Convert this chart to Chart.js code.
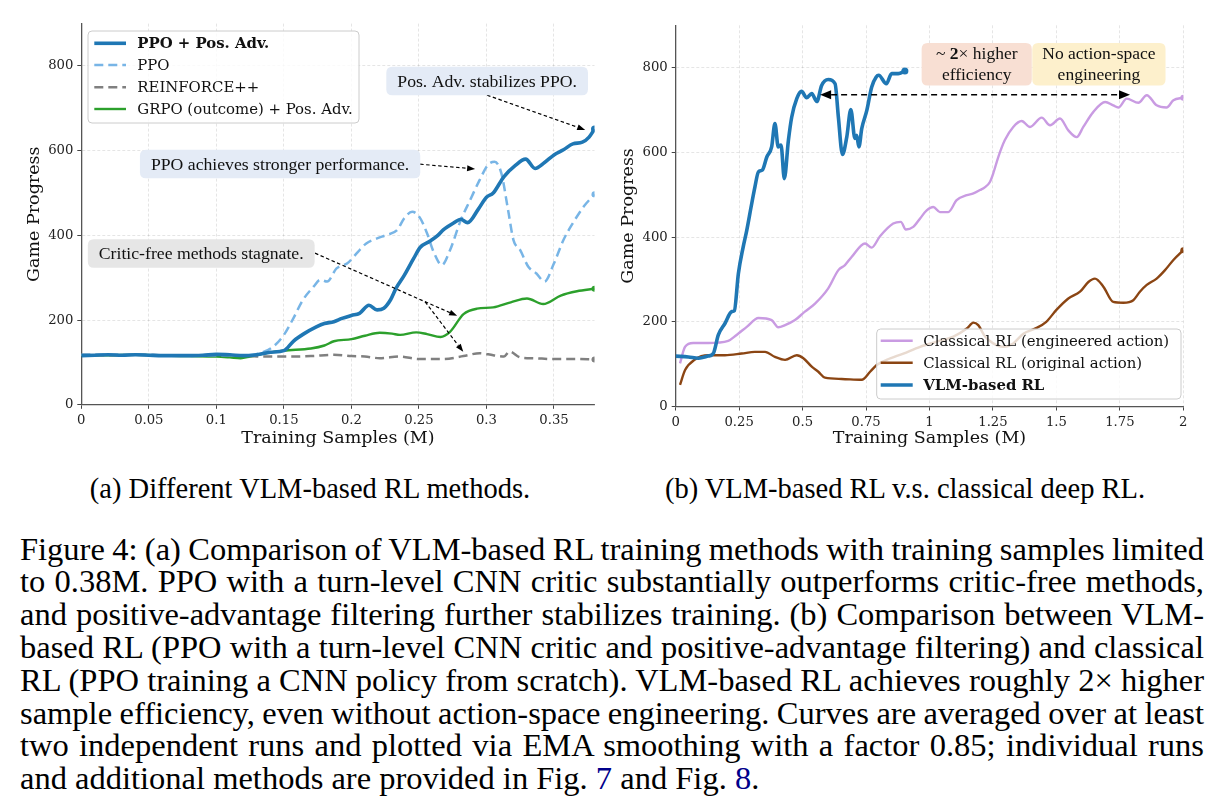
<!DOCTYPE html>
<html><head><meta charset="utf-8">
<script src="https://cdn.jsdelivr.net/npm/chart.js@4.4.1/dist/chart.umd.min.js"></script>
<style>
html,body{margin:0;padding:0;background:#fff;}
body{width:1223px;height:811px;position:relative;overflow:hidden;}
canvas{position:absolute;top:0;}
#c1{left:0;}
#c2{left:610px;}
.sub{position:absolute;font-family:"Liberation Serif",serif;font-size:28.5px;line-height:34px;color:#000;white-space:nowrap;transform:translateX(-50%);}
.cap{position:absolute;left:20px;font-family:"Liberation Serif",serif;font-size:32.5px;line-height:32.8px;color:#000;white-space:nowrap;}
.lnk{color:#00008b;}
</style></head><body>
<canvas id="c1" width="610" height="460"></canvas>
<canvas id="c2" width="613" height="460"></canvas>
<div class="sub" style="left:310px;top:472px;">(a) Different VLM-based RL methods.</div>
<div class="sub" style="left:905px;top:472px;">(b) VLM-based RL v.s. classical deep RL.</div>
<script>
// ---------------- Panel (a): Different VLM-based RL methods ----------------
const ppoPosAdvX = [0,0.01,0.02,0.03,0.04,0.05,0.06,0.07,0.08,0.09,0.1,0.11,0.12,0.13,0.14,0.15,0.157,0.165,0.174,0.18,0.187,0.193,0.2,0.206,0.213,0.219,0.224,0.229,0.233,0.239,0.246,0.251,0.258,0.264,0.268,0.276,0.281,0.286,0.294,0.3,0.305,0.313,0.321,0.329,0.336,0.343,0.35,0.357,0.364,0.371,0.376,0.38];
const ppoPosAdvY = [116,117,118,117,118,117,116,116,116,117,119,118,116,118,124,128,150,168,184,192,196,204,211,216,235,224,228,248,275,305,345,372,386,400,413,430,438,430,462,490,500,539,564,580,558,572,590,602,616,620,632,651];

const ppoX = [0,0.02,0.04,0.06,0.08,0.1,0.12,0.13,0.142,0.15,0.157,0.164,0.172,0.177,0.182,0.189,0.197,0.204,0.211,0.219,0.226,0.234,0.239,0.245,0.251,0.256,0.261,0.267,0.273,0.281,0.288,0.295,0.301,0.306,0.311,0.316,0.32,0.325,0.331,0.337,0.343,0.35,0.357,0.364,0.372,0.38];
const ppoY = [118,118,118,117,116,117,117,120,137,165,204,247,279,295,291,322,334,358,381,393,401,413,440,456,440,405,360,330,365,436,484,531,566,574,547,460,389,365,326,310,291,334,389,429,468,497];

const reinforceX = [0,0.02,0.04,0.06,0.08,0.1,0.12,0.13,0.15,0.17,0.187,0.2,0.21,0.221,0.236,0.25,0.268,0.283,0.295,0.305,0.313,0.317,0.325,0.335,0.35,0.365,0.38];
const reinforceY = [118,117,118,117,116,117,116,114,114,115,118,115,114,110,114,108,108,115,122,117,114,126,112,110,108,108,107];

const grpoX = [0,0.02,0.04,0.06,0.08,0.1,0.11,0.118,0.125,0.137,0.15,0.17,0.18,0.187,0.2,0.21,0.221,0.23,0.236,0.248,0.256,0.266,0.273,0.283,0.293,0.305,0.318,0.33,0.342,0.355,0.367,0.38];
const grpoY = [117,117,118,116,115,114,112,110,114,122,128,133,140,150,155,163,170,168,165,171,167,160,172,214,227,230,242,251,238,258,268,274];

const xTicksA = [0,0.05,0.1,0.15,0.2,0.25,0.3,0.35];
const xTickLabelsA = ['0','0.05','0.1','0.15','0.2','0.25','0.3','0.35'];

// ---------------- Panel (b): VLM-based RL vs classical deep RL ----------------
const vlmX = [0,0.05,0.09,0.128,0.148,0.168,0.194,0.221,0.231,0.247,0.266,0.28,0.297,0.312,0.326,0.341,0.359,0.378,0.391,0.404,0.415,0.428,0.444,0.457,0.477,0.496,0.516,0.536,0.556,0.575,0.601,0.628,0.641,0.657,0.674,0.69,0.706,0.713,0.722,0.733,0.753,0.772,0.79,0.8,0.83,0.851,0.877,0.903];
const vlmY = [119,117,114,119,125,169,196,224,226,314,377,416,471,518,554,558,589,613,668,613,617,538,628,683,727,744,729,739,720,758,772,762,683,595,636,701,633,640,613,656,699,754,778,782,762,786,786,792];

const engX = [0.017,0.037,0.069,0.128,0.207,0.24,0.28,0.326,0.378,0.404,0.431,0.47,0.509,0.549,0.601,0.641,0.667,0.693,0.746,0.772,0.805,0.857,0.887,0.907,0.936,0.963,0.989,1.015,1.041,1.074,1.107,1.147,1.173,1.199,1.219,1.238,1.251,1.271,1.297,1.33,1.363,1.396,1.442,1.475,1.514,1.547,1.58,1.606,1.645,1.692,1.724,1.744,1.777,1.823,1.856,1.895,1.934,1.961,2];
const engY = [102,141,150,150,155,169,188,209,204,187,192,204,224,243,279,322,334,353,385,375,402,432,436,418,424,444,463,471,459,459,487,499,503,511,518,530,550,589,629,660,674,660,682,664,680,652,636,660,695,719,711,706,727,717,735,711,706,723,729];

const origX = [0.017,0.037,0.076,0.128,0.194,0.26,0.312,0.352,0.391,0.431,0.477,0.503,0.536,0.562,0.588,0.654,0.733,0.766,0.792,0.831,0.897,0.963,1.028,1.094,1.147,1.173,1.192,1.219,1.251,1.291,1.33,1.37,1.42,1.46,1.5,1.547,1.593,1.626,1.652,1.685,1.724,1.764,1.803,1.829,1.856,1.895,1.928,1.961,2];
const origY = [51,86,111,121,121,125,129,129,117,110,121,114,94,82,68,65,63,82,98,110,125,141,153,165,184,198,192,165,149,141,149,172,185,200,228,255,271,294,302,283,247,245,251,271,287,302,322,346,369];

const xTicksB = [0,0.25,0.5,0.75,1,1.25,1.5,1.75,2];
const xTickLabelsB = ['0','0.25','0.5','0.75','1','1.25','1.5','1.75','2'];

// shared y ticks
const yTicks = [0,200,400,600,800];
const yTickLabels = ['0','200','400','600','800'];

// ---------------- caption ----------------
const captionLines = [
  'Figure 4: (a) Comparison of VLM-based RL training methods with training samples limited',
  'to 0.38M. PPO with a turn-level CNN critic substantially outperforms critic-free methods,',
  'and positive-advantage filtering further stabilizes training. (b) Comparison between VLM-',
  'based RL (PPO with a turn-level CNN critic and positive-advantage filtering) and classical',
  'RL (PPO training a CNN policy from scratch). VLM-based RL achieves roughly 2\u00d7 higher',
  'sample efficiency, even without action-space engineering. Curves are averaged over at least',
  'two independent runs and plotted via EMA smoothing with a factor 0.85; individual runs',
  'and additional methods are provided in Fig. <span class="lnk">7</span> and Fig. <span class="lnk">8</span>.'
];

// ============ helpers ============
const SERIF = "'DejaVu Serif'";
const TIMES = "'Liberation Serif'";
const pts = (xs, ys) => xs.map((x, i) => ({x: x, y: ys[i]}));

function series(label, xs, ys, color, width, dash, endR, extra) {
  const n = xs.length;
  return Object.assign({
    label: label, data: pts(xs, ys), borderColor: color, backgroundColor: color,
    borderWidth: width, borderDash: dash, fill: false,
    pointRadius: c => (c.dataIndex === n - 1 ? endR : 0), pointBorderWidth: 0,
    pointHoverRadius: 0, cubicInterpolationMode: 'monotone', borderJoinStyle: 'round'
  }, extra || {});
}

function makeScales(xv, xl, xmax, yWidth, xHeight) {
  const grid = {color: 'rgba(0,0,0,0.13)', lineWidth: 0.8, tickColor: '#444', tickLength: 4, tickWidth: 1, tickBorderDash: []};
  const border = {display: true, color: '#555', width: 1.3, dash: [3, 2]};
  const tickFont = {family: SERIF, size: 13.2};
  const titleFont = {family: SERIF, size: 17.5};
  return {
    x: {
      type: 'linear', min: 0, max: xmax,
      afterBuildTicks: s => { s.ticks = xv.map(v => ({value: v})); },
      afterFit: s => { s.height = xHeight; },
      ticks: {callback: (v, i) => xl[i], font: tickFont, color: '#222', padding: 4, maxRotation: 0, autoSkip: false, includeBounds: false},
      grid: grid, border: border,
      title: {display: true, text: 'Training Samples (M)', font: titleFont, color: '#111', padding: {top: 0, bottom: 11.5}}
    },
    y: {
      type: 'linear', min: 0, max: 900,
      afterBuildTicks: s => { s.ticks = yTicks.map(v => ({value: v})); },
      afterFit: s => { s.width = yWidth; },
      ticks: {callback: (v, i) => yTickLabels[i], font: tickFont, color: '#222', padding: 4, autoSkip: false, includeBounds: false},
      grid: grid, border: border,
      title: {display: true, text: 'Game Progress', font: titleFont, color: '#111', padding: {top: 0, bottom: 0}}
    }
  };
}

function roundRect(ctx, x, y, w, h, r) {
  ctx.beginPath();
  ctx.moveTo(x + r, y);
  ctx.lineTo(x + w - r, y); ctx.quadraticCurveTo(x + w, y, x + w, y + r);
  ctx.lineTo(x + w, y + h - r); ctx.quadraticCurveTo(x + w, y + h, x + w - r, y + h);
  ctx.lineTo(x + r, y + h); ctx.quadraticCurveTo(x, y + h, x, y + h - r);
  ctx.lineTo(x, y + r); ctx.quadraticCurveTo(x, y, x + r, y);
  ctx.closePath();
}

function head(ctx, x, y, ang, len, wid) {
  ctx.beginPath();
  ctx.moveTo(x, y);
  ctx.lineTo(x - len * Math.cos(ang) + wid / 2 * Math.sin(ang), y - len * Math.sin(ang) - wid / 2 * Math.cos(ang));
  ctx.lineTo(x - len * Math.cos(ang) - wid / 2 * Math.sin(ang), y - len * Math.sin(ang) + wid / 2 * Math.cos(ang));
  ctx.closePath();
  ctx.fill();
}

function drawArrow(ctx, x1, y1, x2, y2, a) {
  const ang = Math.atan2(y2 - y1, x2 - x1);
  const c = Math.cos(ang), s = Math.sin(ang);
  let sx = x1, sy = y1;
  if (a.both) { sx = x1 + a.head * c; sy = y1 + a.head * s; }
  ctx.save();
  ctx.strokeStyle = '#000'; ctx.fillStyle = '#000';
  ctx.lineWidth = a.lw; ctx.setLineDash(a.dash);
  ctx.beginPath(); ctx.moveTo(sx, sy); ctx.lineTo(x2 - a.head * c, y2 - a.head * s); ctx.stroke();
  ctx.setLineDash([]);
  head(ctx, x2, y2, ang, a.head, a.wid);
  if (a.both) head(ctx, x1, y1, ang + Math.PI, a.head, a.wid);
  ctx.restore();
}

function segFont(seg, size) { return (seg.b ? 'bold ' : '') + size + 'px ' + TIMES; }

function drawBox(ctx, b, X, Y) {
  const size = b.size;
  const widths = b.lines.map(line => line.reduce((w, seg) => { ctx.font = segFont(seg, size); return w + ctx.measureText(seg.t).width; }, 0));
  let x, y, w, h;
  if (b.ext) {
    x = X(b.ext[0]); w = X(b.ext[1]) - x; y = Y(b.ext[3]); h = Y(b.ext[2]) - y;
  } else {
    w = Math.max.apply(null, widths) + 2 * b.padX;
    h = b.lines.length * b.lh + 2 * b.padY;
    x = X(b.cx) - w / 2; y = Y(b.cy) - h / 2;
  }
  ctx.save();
  ctx.fillStyle = b.bg;
  roundRect(ctx, x, y, w, h, 6);
  ctx.fill();
  ctx.fillStyle = '#111';
  ctx.textBaseline = 'middle'; ctx.textAlign = 'left';
  const cxp = x + w / 2, cyp = y + h / 2;
  b.lines.forEach((line, i) => {
    let tx = cxp - widths[i] / 2;
    const ty = cyp + (i - (b.lines.length - 1) / 2) * b.lh + 1;
    line.forEach(seg => {
      ctx.font = segFont(seg, size);
      ctx.fillText(seg.t, tx, ty);
      tx += ctx.measureText(seg.t).width;
    });
  });
  ctx.restore();
}

function drawLegend(ctx, chart, L) {
  ctx.save();
  ctx.fillStyle = 'rgba(255,255,255,0.8)';
  roundRect(ctx, L.x, L.y, L.w, L.h, 4);
  ctx.fill();
  ctx.strokeStyle = '#cccccc'; ctx.lineWidth = 1;
  ctx.stroke();
  chart.data.datasets.forEach((ds, i) => {
    const yy = L.rows[i];
    ctx.strokeStyle = ds.borderColor; ctx.lineWidth = ds.borderWidth;
    ctx.setLineDash(ds.borderDash || []);
    ctx.beginPath(); ctx.moveTo(L.sx0, yy); ctx.lineTo(L.sx1, yy); ctx.stroke();
    ctx.setLineDash([]);
    ctx.fillStyle = '#111';
    ctx.font = (ds.legendBold ? 'bold ' : '') + L.size + 'px ' + SERIF;
    ctx.textBaseline = 'middle'; ctx.textAlign = 'left';
    ctx.fillText(ds.label, L.tx, yy + 1);
  });
  ctx.restore();
}

const overlay = {
  id: 'overlay',
  afterDraw(chart, args, opts) {
    const ctx = chart.ctx;
    const X = v => chart.scales.x.getPixelForValue(v);
    const Y = v => chart.scales.y.getPixelForValue(v);
    (opts.arrows || []).forEach(a => drawArrow(ctx, X(a.from[0]), Y(a.from[1]), X(a.to[0]), Y(a.to[1]), a));
    (opts.boxes || []).forEach(b => drawBox(ctx, b, X, Y));
    if (opts.legend) drawLegend(ctx, chart, opts.legend);
  }
};

const smallArrow = {lw: 1.2, dash: [3.5, 2.5], head: 8, wid: 6};

// ============ chart (a) ============
new Chart(document.getElementById('c1'), {
  type: 'line',
  data: {
    datasets: [
      series('PPO + Pos. Adv.', ppoPosAdvX, ppoPosAdvY, '#1f77b4', 3.6, [], 3.5, {legendBold: true}),
      series('PPO', ppoX, ppoY, '#78b5e6', 2.5, [9, 5], 3),
      series('REINFORCE++', reinforceX, reinforceY, '#808080', 2.5, [9, 5], 3),
      series('GRPO (outcome) + Pos. Adv.', grpoX, grpoY, '#2ca02c', 2.4, [], 3)
    ]
  },
  options: {
    responsive: false, animation: false, devicePixelRatio: 1,
    layout: {padding: {left: 23.5, top: 23.6, right: 15.5, bottom: 0}},
    scales: makeScales(xTicksA, xTickLabelsA, 0.38, 57.8, 55.2),
    plugins: {
      legend: {display: false}, tooltip: {enabled: false},
      overlay: {
        arrows: [
          Object.assign({from: [0.3005, 731], to: [0.3731, 649]}, smallArrow),
          Object.assign({from: [0.2509, 568], to: [0.2916, 557]}, smallArrow),
          Object.assign({from: [0.1731, 358], to: [0.2783, 210]}, smallArrow),
          Object.assign({from: [0.2546, 243], to: [0.2828, 125]}, smallArrow)
        ],
        boxes: [
          {cx: 0.3005, cy: 764.5, bg: '#e4ebf6', size: 17.7, padX: 11, padY: 5.5, lh: 17.5, lines: [[{t: 'Pos. Adv. stabilizes PPO.'}]]},
          {cx: 0.1472, cy: 568.6, bg: '#e4ebf6', size: 17.7, padX: 11, padY: 5.5, lh: 17.5, lines: [[{t: 'PPO achieves stronger performance.'}]]},
          {cx: 0.0888, cy: 357.3, bg: '#e6e6e6', size: 17.7, padX: 11, padY: 5.5, lh: 17.5, lines: [[{t: 'Critic-free methods stagnate.'}]]}
        ],
        legend: {x: 88, y: 31, w: 271, h: 92, rows: [43.3, 65, 87.3, 109], sx0: 94.3, sx1: 126, tx: 137.3, size: 14.9}
      }
    }
  },
  plugins: [overlay]
});

// ============ chart (b) ============
new Chart(document.getElementById('c2'), {
  type: 'line',
  data: {
    datasets: [
      series('Classical RL (engineered action)', engX, engY, '#c99be2', 2.4, [], 3, {order: 1}),
      series('Classical RL (original action)', origX, origY, '#8b4513', 2.4, [], 3, {order: 2}),
      series('VLM-based RL', vlmX, vlmY, '#1f77b4', 3.6, [], 3.5, {order: 0, legendBold: true})
    ]
  },
  options: {
    responsive: false, animation: false, devicePixelRatio: 1,
    layout: {padding: {left: 7.5, top: 25.3, right: 39.7, bottom: 0}},
    scales: makeScales(xTicksB, xTickLabelsB, 2, 58.2, 53.5),
    plugins: {
      legend: {display: false}, tooltip: {enabled: false},
      overlay: {
        arrows: [
          {from: [0.569, 736], to: [1.79, 736], lw: 1.5, dash: [6, 4], head: 11, wid: 9, both: true}
        ],
        boxes: [
          {ext: [0.969, 1.403, 758, 858], bg: '#f8dfd3', size: 17.5, lh: 21, lines: [[{t: '~ '}, {t: '2', b: true}, {t: '\u00d7 higher'}], [{t: 'efficiency'}]]},
          {ext: [1.405, 1.93, 758, 858], bg: '#fdf0cc', size: 17.5, lh: 21, lines: [[{t: 'No action-space'}], [{t: 'engineering'}]]}
        ],
        legend: {x: 266.7, y: 329, w: 304.3, h: 70, rows: [340.7, 362.7, 385], sx0: 270.7, sx1: 302.7, tx: 313.3, size: 14.9}
      }
    }
  },
  plugins: [overlay]
});

// ============ caption ============
const capTop = 532.6, capLH = 32.8, capLeft = 20, capRight = 1204;
captionLines.forEach((t, i) => {
  const d = document.createElement('div');
  d.className = 'cap';
  d.style.top = (capTop + i * capLH) + 'px';
  d.innerHTML = t;
  document.body.appendChild(d);
  if (i < captionLines.length - 1) {
    const w = d.getBoundingClientRect().width;
    const n = (d.textContent.match(/ /g) || []).length;
    d.style.wordSpacing = ((capRight - capLeft - w) / n) + 'px';
  }
});
</script>
</body></html>
